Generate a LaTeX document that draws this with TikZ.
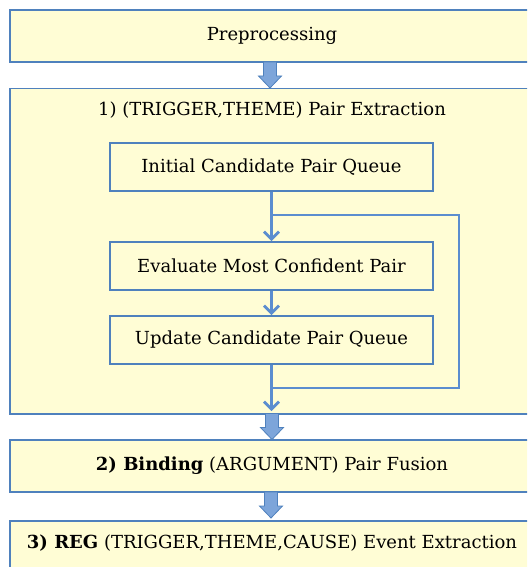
\documentclass[tikz,border=0pt]{standalone}
\usepackage{fontspec}
\setmainfont{DejaVu Serif}
\usetikzlibrary{arrows.meta,calc}
\definecolor{boxfill}{HTML}{FFFDD5}
\definecolor{boxline}{HTML}{4F81BD}
\definecolor{conn}{HTML}{5B8DCF}
\definecolor{arrfill}{HTML}{7DA5DA}
\tikzset{
  lbl/.style={font=\fontsize{18}{21}\selectfont},
  stagebox/.style={draw=boxline, fill=boxfill, line width=1.5pt, minimum width=524pt, inner sep=0pt, lbl},
  innerbox/.style={draw=boxline, fill=boxfill, line width=1.8pt, minimum width=323pt, minimum height=48pt, inner sep=0pt, lbl},
  conline/.style={draw=conn, line width=2.8pt},
  conarrow/.style={conline, -{Straight Barb[length=7.5pt,width=15pt,line width=2.8pt]}},
  blockarrow/.style={draw=boxline, fill=arrfill, line width=0.8pt, line join=miter},
}
\newcommand\blockdown[1]{%
  \path[blockarrow] ($(#1)+(-6.5pt,0)$) -- ($(#1)+(6.5pt,0)$) -- ($(#1)+(6.5pt,-14pt)$) -- ($(#1)+(11.5pt,-14pt)$) -- ($(#1)+(0,-26pt)$) -- ($(#1)+(-11.5pt,-14pt)$) -- ($(#1)+(-6.5pt,-14pt)$) -- cycle;}
\begin{document}
\begin{tikzpicture}[x=1pt,y=1pt]
\useasboundingbox (0,0) rectangle (527,-567);
\clip (0,0) rectangle (527,-567);
\fill[white] (0,0) rectangle (527,-567);
% stage boxes
\node[stagebox, minimum height=52pt] (pre) at (272,-36) {Preprocessing};
\node[stagebox, minimum height=325pt, anchor=north] (stage1) at (272,-88) {};
\node[lbl] (title) at (272,-110) {1) (TRIGGER,THEME) Pair Extraction};
\node[stagebox, minimum height=52pt] (bind) at (272,-466) {\textbf{2) Binding} (ARGUMENT) Pair Fusion};
\node[stagebox, minimum height=60pt, anchor=north] (reg) at (272,-520) {};
\node[lbl] (regtext) at (272,-543) {\textbf{3) REG} (TRIGGER,THEME,CAUSE) Event Extraction};
% inner boxes
\node[innerbox] (init) at (271.5,-167) {Initial Candidate Pair Queue};
\node[innerbox] (eval) at (271.5,-266) {Evaluate Most Confident Pair};
\node[innerbox] (upd) at (271.5,-340) {Update Candidate Pair Queue};
% loop coordinates
\coordinate (j1) at (271.5,-215);
\coordinate (j2) at (271.5,-388);
\coordinate (r1) at (459,-215);
\coordinate (r2) at (459,-388);
\coordinate (out) at (271.5,-411);
\draw[conline, line join=miter] (j2) -- (r2) -- (r1) -- (j1);
\draw[conarrow] (init.south) -- (eval.north);
\draw[conarrow] (eval.south) -- (upd.north);
\draw[conarrow] (upd.south) -- (out);
% block arrows
\coordinate (b1) at (270,-62);
\coordinate (b2) at (272,-413.5);
\coordinate (b3) at (271,-492);
\blockdown{b1}
\blockdown{b2}
\blockdown{b3}
\end{tikzpicture}
\end{document}
